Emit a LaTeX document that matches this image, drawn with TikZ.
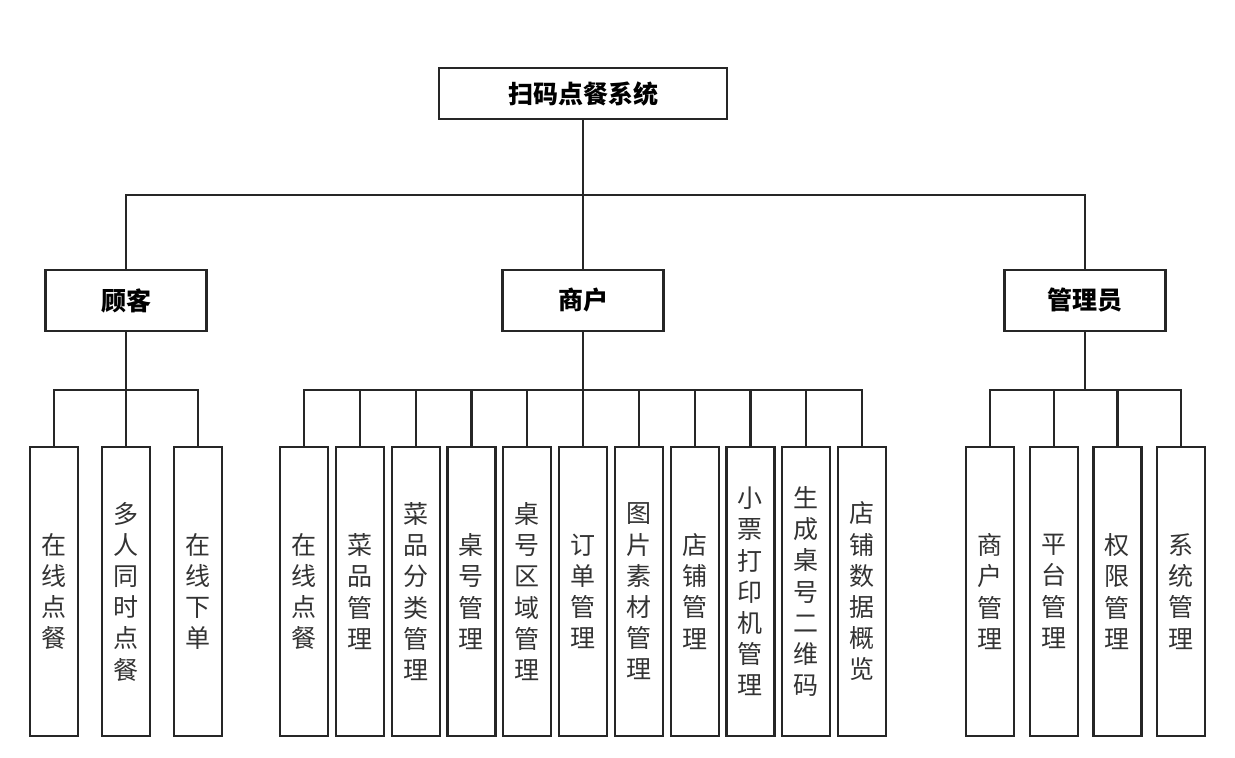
\documentclass[tikz,border=0pt]{standalone}
\usepackage{fontspec}
\newfontfamily\cjk{Noto Sans CJK SC}
\usepackage{tikz}
\usetikzlibrary{positioning}
\tikzset{%
	root/.style     = {draw, rectangle, minimum width=144pt, minimum height=25.5pt, font=\cjk\bfseries\fontsize{12.5}{15}\selectfont}, % System
	role/.style     = {draw, rectangle, minimum width=80.5pt, minimum height=30.5pt, font=\cjk\bfseries\fontsize{12.5}{15}\selectfont}, % Role
	leaf/.style     = {draw, rectangle, minimum width=24pt, minimum height=144.5pt, inner sep=0pt, align=center, text=black!80, font=\cjk\fontsize{12.5}{15.6}\selectfont}, % Function
	waypoint/.style = {coordinate}, % Bus
}

\begin{document}
\begin{tikzpicture}[x=0.5pt,y=-0.5pt,line width=1.1pt,draw=black!85]
	\useasboundingbox (0,0) rectangle (1235,757);
	\node [root] (sys) at (583,93.5) {扫码点餐系统};
	\node [role] (sh) [below of=sys,node distance=103.5pt] {商户};
	\node [role] (gk) [left of=sh,node distance=228.5pt] {顾客};
	\node [role] (gl) [right of=sh,node distance=251pt] {管理员};
	
	% customer
	\node [leaf] (gk1) at (54,591.5) {在\\线\\点\\餐};
	\node [leaf] (gk2) [right of=gk1,node distance=36pt] {多\\人\\同\\时\\点\\餐};
	\node [leaf] (gk3) [right of=gk2,node distance=36pt] {在\\线\\下\\单};
	
	% merchant
	\node [leaf] (sh1) at (304,591.5) {在\\线\\点\\餐};
	\foreach \txt [count=\i from 2] in {{菜\\品\\管\\理},{菜\\品\\分\\类\\管\\理},{桌\\号\\管\\理},{桌\\号\\区\\域\\管\\理},{订\\单\\管\\理},{图\\片\\素\\材\\管\\理},{店\\铺\\管\\理},{小\\票\\打\\印\\机\\管\\理},{生\\成\\桌\\号\\二\\维\\码},{店\\铺\\数\\据\\概\\览}}{
		\pgfmathtruncatemacro\j{\i-1}
		\node [leaf] (sh\i) [right of=sh\j,node distance=27.9pt] {\txt};
	}
	
	% admin
	\node [leaf] (gl1) at (990,591.5) {商\\户\\管\\理};
	\node [leaf] (gl2) [right of=gl1,node distance=31.85pt] {平\\台\\管\\理};
	\node [leaf] (gl3) [right of=gl2,node distance=31.85pt] {权\\限\\管\\理};
	\node [leaf] (gl4) [right of=gl3,node distance=31.85pt] {系\\统\\管\\理};
	
	\node [waypoint] (b0) at (583,195) {};
	\node [waypoint] (b1) [below of=gk,node distance=44.75pt] {};
	\node [waypoint] (b2) [below of=sh,node distance=44.75pt] {};
	\node [waypoint] (b3) [below of=gl,node distance=44.75pt] {};
	
	\draw (sys) -- (b0);
	\draw (b0) -| (gk);
	\draw (b0) -- (sh);
	\draw (b0) -| (gl);
	\draw (gk) -- (b1);
	\draw (sh) -- (b2);
	\draw (gl) -- (b3);
	\foreach \i in {1,2,3} \draw (b1) -| (gk\i);
	\foreach \i in {1,...,11} \draw (b2) -| (sh\i);
	\foreach \i in {1,...,4} \draw (b3) -| (gl\i);
\end{tikzpicture}
\end{document}
